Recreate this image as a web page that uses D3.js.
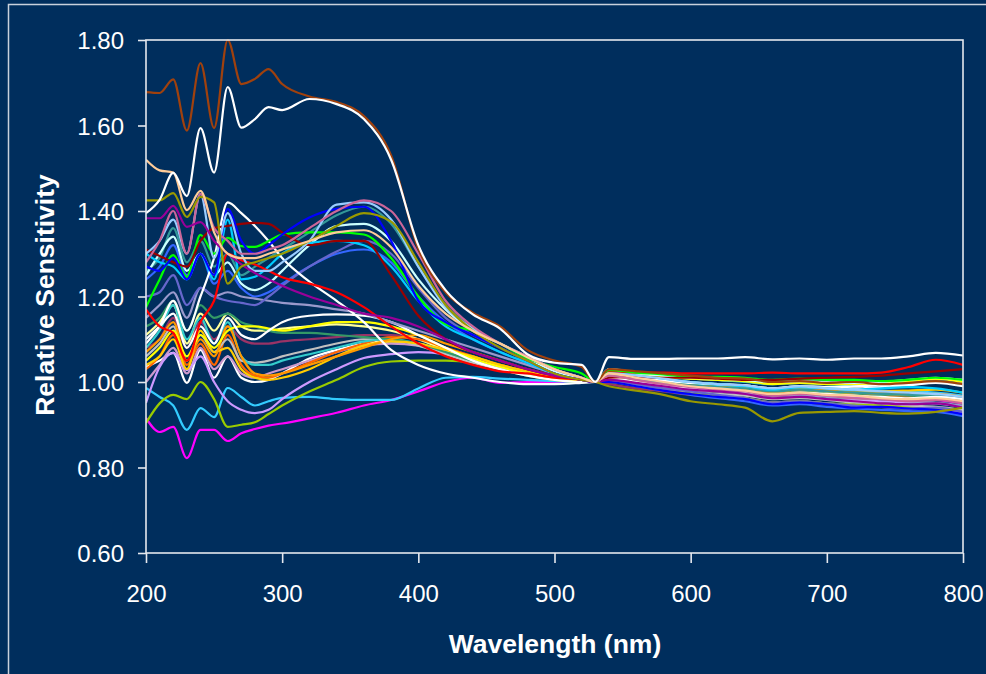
<!DOCTYPE html>
<html>
<head>
<meta charset="utf-8">
<script src="https://cdn.jsdelivr.net/npm/d3@7"></script>
<style>
  html, body { margin: 0; padding: 0; background: #002e5d; }
  svg { display: block; }
</style>
</head>
<body>
<svg id="chart" width="986" height="674"></svg>
<script>
// ---------------- DATA ----------------
const wavelengths = [200,210,220,230,240,250,260,270,280,290,300,320,340,360,380,400,420,440,460,480,500,520,530,540,560,580,600,620,640,660,680,700,720,740,760,780,800];
const xTicks = [200,300,400,500,600,700,800];
const yTicks = [0.6,0.8,1.0,1.2,1.4,1.6,1.8];
const xTitle = "Wavelength (nm)";
const yTitle = "Relative Sensitivity";

const s01 = [1.678,1.676,1.708,1.588,1.746,1.594,1.800,1.697,1.709,1.732,1.697, 1.668,1.655,1.622,1.530,1.312,1.210,1.162,1.130,1.075,1.050,1.035, 1.000, 1.030,1.025,1.020,1.015,1.010,1.008,1.000,1.002,0.998,1.000,0.995,0.998,1.002,0.995];
const s02 = [1.395,1.426,1.489,1.435,1.594,1.490,1.690,1.595,1.615,1.643,1.636, 1.662,1.650,1.615,1.520,1.320,1.215,1.158,1.125,1.065,1.045,1.040, 1.000, 1.058,1.054,1.054,1.055,1.055,1.058,1.053,1.055,1.052,1.055,1.055,1.060,1.068,1.062];
const s03 = [1.520,1.495,1.490,1.402,1.447,1.350,1.300,1.290,1.290,1.300,1.310, 1.330,1.350,1.355,1.315,1.225,1.160,1.120,1.090,1.058,1.030,1.010, 1.000, 1.020,1.010,1.000,0.990,0.985,0.980,0.972,0.975,0.970,0.968,0.962,0.960,0.962,0.955];
const s04 = [1.425,1.425,1.442,1.386,1.433,1.420,1.230,1.270,1.280,1.290,1.300, 1.330,1.365,1.395,1.375,1.280,1.180,1.120,1.080,1.050,1.020,1.005, 1.000, 0.990,0.980,0.970,0.955,0.948,0.940,0.908,0.928,0.930,0.932,0.928,0.926,0.930,0.940];
const s05 = [1.383,1.383,1.412,1.363,1.374,1.330,1.300,1.275,1.255,1.240,1.225, 1.200,1.180,1.160,1.150,1.130,1.100,1.070,1.050,1.030,1.015,1.005, 1.000, 1.005,0.998,0.990,0.982,0.978,0.972,0.962,0.965,0.960,0.955,0.950,0.948,0.950,0.940];
const s06 = [1.280,1.330,1.400,1.300,1.440,1.360,1.330,1.300,1.300,1.310,1.320, 1.360,1.400,1.425,1.400,1.300,1.190,1.130,1.090,1.060,1.030,1.010, 1.000, 1.015,1.005,0.995,0.988,0.982,0.978,0.968,0.972,0.968,0.962,0.960,0.955,0.958,0.950];
const s07 = [1.300,1.330,1.380,1.300,1.440,1.290,1.395,1.300,1.260,1.260,1.280, 1.330,1.415,1.420,1.380,1.270,1.175,1.125,1.090,1.060,1.030,1.010, 1.000, 1.020,1.015,1.008,1.000,0.995,0.992,0.985,0.990,0.985,0.982,0.978,0.975,0.972,0.965];
const s08 = [1.270,1.260,1.290,1.240,1.300,1.250,1.405,1.330,1.300,1.320,1.345, 1.385,1.405,1.410,1.330,1.190,1.140,1.110,1.080,1.050,1.020,1.005, 1.000, 1.000,0.990,0.980,0.972,0.965,0.960,0.948,0.952,0.948,0.940,0.942,0.938,0.935,0.925];
const s09 = [1.310,1.295,1.280,1.270,1.330,1.360,1.365,1.370,1.372,1.370,1.350, 1.320,1.330,1.330,1.250,1.155,1.100,1.070,1.050,1.030,1.015,1.005, 1.000, 1.010,1.012,1.010,1.010,1.008,1.005,1.005,1.008,1.010,1.012,1.015,1.020,1.025,1.030];
const s10 = [1.175,1.240,1.297,1.246,1.344,1.300,1.337,1.318,1.316,1.330,1.345, 1.350,1.350,1.345,1.290,1.200,1.135,1.120,1.090,1.055,1.035,1.020, 1.000, 1.028,1.022,1.018,1.012,1.012,1.010,1.005,1.008,1.005,1.005,1.002,1.005,1.010,1.005];
const s11 = [1.170,1.130,1.115,1.050,1.140,1.190,1.300,1.285,1.275,1.260,1.245, 1.230,1.210,1.175,1.130,1.090,1.060,1.040,1.025,1.020,1.010,1.005, 1.000, 1.025,1.022,1.022,1.020,1.020,1.020,1.022,1.020,1.020,1.020,1.022,1.035,1.052,1.040];
const s12 = [1.090,1.130,1.190,1.120,1.200,1.290,1.420,1.395,1.365,1.330,1.290, 1.235,1.190,1.140,1.075,1.040,1.020,1.010,1.000,0.995,0.995,0.998, 1.000, 1.010,1.000,0.992,0.985,0.982,0.978,0.970,0.975,0.972,0.968,0.965,0.962,0.965,0.960];
const s13 = [1.300,1.280,1.270,1.240,1.300,1.240,1.380,1.240,1.246,1.270,1.300, 1.325,1.330,1.320,1.270,1.190,1.130,1.100,1.070,1.045,1.020,1.005, 1.000, 1.025,1.015,1.008,1.000,0.995,0.990,0.982,0.988,0.985,0.982,0.985,0.988,0.985,0.975];
const s14 = [1.250,1.300,1.340,1.260,1.300,1.250,1.280,1.230,1.215,1.230,1.260, 1.320,1.365,1.370,1.330,1.240,1.170,1.120,1.090,1.055,1.025,1.008, 1.000, 1.030,1.020,1.015,1.010,1.008,1.005,1.000,1.002,1.000,0.998,1.000,1.005,1.010,1.005];
const s15 = [1.200,1.210,1.250,1.180,1.220,1.200,1.190,1.185,1.180,1.200,1.225, 1.270,1.305,1.330,1.300,1.220,1.150,1.110,1.080,1.050,1.025,1.008, 1.000, 1.005,0.995,0.985,0.978,0.970,0.962,0.952,0.955,0.950,0.945,0.942,0.938,0.940,0.930];
const s16 = [1.260,1.290,1.360,1.280,1.330,1.270,1.300,1.250,1.270,1.290,1.310, 1.350,1.390,1.410,1.370,1.270,1.180,1.125,1.090,1.060,1.030,1.010, 1.000, 1.015,1.005,0.998,0.992,0.988,0.985,0.978,0.982,0.978,0.975,0.972,0.970,0.968,0.960];
const s17 = [1.150,1.180,1.210,1.150,1.220,1.200,1.210,1.200,1.195,1.190,1.185, 1.180,1.170,1.160,1.140,1.120,1.100,1.080,1.060,1.040,1.020,1.008, 1.000, 1.008,0.998,0.990,0.985,0.980,0.975,0.968,0.970,0.965,0.962,0.960,0.955,0.952,0.945];
const s18 = [1.100,1.130,1.160,1.080,1.130,1.090,1.150,1.110,1.100,1.120,1.140, 1.155,1.158,1.155,1.140,1.110,1.080,1.050,1.030,1.015,1.005,1.000, 1.000, 1.020,1.010,1.002,0.998,0.995,0.992,0.985,0.990,0.988,0.990,0.992,0.995,1.000,0.995];
const s19 = [1.050,1.080,1.120,1.060,1.110,1.080,1.120,1.130,1.130,1.125,1.120, 1.130,1.140,1.140,1.130,1.110,1.080,1.055,1.035,1.020,1.010,1.002, 1.000, 1.025,1.018,1.012,1.008,1.005,1.002,0.995,0.998,0.995,0.995,0.998,1.002,1.008,1.000];
const s20 = [1.070,1.100,1.140,1.050,1.100,1.060,1.130,1.060,1.020,1.015,1.020, 1.040,1.060,1.080,1.100,1.110,1.090,1.070,1.050,1.030,1.015,1.005, 1.000, 1.018,1.008,1.000,0.992,0.988,0.985,0.978,0.982,0.980,0.975,0.972,0.970,0.972,0.965];
const s21 = [1.040,1.060,1.100,1.030,1.120,1.070,1.080,1.030,1.010,1.005,1.010, 1.030,1.060,1.085,1.095,1.090,1.075,1.060,1.040,1.025,1.010,1.002, 1.000, 1.010,1.002,0.995,0.990,0.988,0.985,0.978,0.982,0.978,0.975,0.978,0.980,0.982,0.975];
const s22 = [1.130,1.150,1.190,1.120,1.180,1.150,1.160,1.140,1.130,1.120,1.115, 1.115,1.110,1.105,1.100,1.090,1.070,1.050,1.035,1.020,1.010,1.002, 1.000, 1.012,1.005,0.998,0.992,0.988,0.985,0.978,0.980,0.976,0.972,0.970,0.968,0.965,0.960];
const s23 = [1.080,1.120,1.180,1.100,1.150,1.090,1.140,1.060,1.040,1.040,1.050, 1.065,1.080,1.095,1.100,1.090,1.070,1.050,1.035,1.020,1.010,1.002, 1.000, 1.030,1.022,1.015,1.010,1.005,1.000,0.995,0.998,0.995,0.992,0.995,0.998,1.002,0.995];
const s24 = [1.060,1.090,1.130,1.050,1.110,1.070,1.100,1.050,1.045,1.050,1.060, 1.075,1.090,1.100,1.100,1.085,1.065,1.045,1.030,1.018,1.008,1.002, 1.000, 1.005,0.995,0.985,0.978,0.972,0.968,0.960,0.962,0.958,0.952,0.950,0.945,0.942,0.935];
const s25 = [0.951,1.035,1.068,1.028,1.060,1.000,0.955,0.935,0.927,0.935,0.960, 1.000,1.030,1.056,1.065,1.070,1.065,1.050,1.035,1.020,1.010,1.002, 1.000, 1.010,1.000,0.990,0.982,0.978,0.972,0.962,0.965,0.960,0.958,0.955,0.952,0.950,0.942];
const s26 = [0.904,0.950,0.970,0.960,1.000,0.960,0.895,0.900,0.906,0.925,0.945, 0.978,1.005,1.035,1.048,1.050,1.050,1.045,1.030,1.015,1.005,1.000, 1.000, 1.000,0.992,0.985,0.975,0.968,0.962,0.952,0.955,0.950,0.948,0.945,0.942,0.940,0.935];
const s27 = [0.986,0.965,0.945,0.888,0.939,0.918,0.986,0.965,0.945,0.955,0.963, 0.965,0.960,0.958,0.958,0.985,1.010,1.012,1.008,1.005,1.002,1.000, 1.000, 1.015,1.008,1.000,0.995,0.992,0.988,0.982,0.985,0.982,0.980,0.980,0.978,0.975,0.968];
const s28 = [0.916,0.883,0.895,0.822,0.888,0.888,0.862,0.880,0.890,0.898,0.903, 0.915,0.928,0.945,0.958,0.978,1.000,1.010,0.998,1.000,1.000,1.000, 1.000, 1.005,0.998,0.990,0.985,0.980,0.978,0.970,0.972,0.968,0.965,0.962,0.960,0.958,0.950];
const s29 = [1.030,1.060,1.110,1.040,1.090,1.040,1.110,1.040,1.015,1.010,1.020, 1.045,1.070,1.090,1.105,1.100,1.080,1.060,1.040,1.025,1.010,1.002, 1.000, 1.015,1.005,0.998,0.992,0.985,0.982,0.975,0.978,0.975,0.970,0.968,0.965,0.962,0.955];
const s30 = [1.110,1.140,1.180,1.090,1.160,1.120,1.160,1.130,1.120,1.120,1.125, 1.130,1.135,1.130,1.120,1.100,1.075,1.050,1.035,1.020,1.008,1.002, 1.000, 1.028,1.020,1.012,1.008,1.005,1.002,0.998,1.000,0.998,0.995,0.998,1.002,1.008,1.002];
const s31 = [1.240,1.270,1.320,1.250,1.300,1.230,1.260,1.220,1.200,1.210,1.230, 1.270,1.300,1.310,1.280,1.200,1.140,1.100,1.070,1.045,1.020,1.005, 1.000, 1.000,0.990,0.980,0.970,0.962,0.955,0.945,0.948,0.942,0.938,0.935,0.932,0.930,0.920];
const s32 = [1.000,1.040,1.080,1.020,1.080,1.030,1.060,1.020,1.010,1.020,1.030, 1.050,1.070,1.085,1.090,1.085,1.070,1.050,1.035,1.020,1.008,1.002, 1.000, 1.002,0.992,0.982,0.975,0.968,0.962,0.952,0.955,0.950,0.945,0.942,0.938,0.935,0.928];
const s33 = [1.080,1.100,1.150,1.080,1.140,1.100,1.130,1.100,1.090,1.090,1.095, 1.100,1.105,1.110,1.110,1.100,1.080,1.060,1.040,1.025,1.010,1.002, 1.000, 0.995,0.985,0.978,0.970,0.965,0.960,0.950,0.952,0.948,0.945,0.942,0.940,0.938,0.930];
const s34 = [1.035,1.050,1.068,0.998,1.075,1.010,1.060,1.010,1.000,1.005,1.020, 1.055,1.075,1.090,1.095,1.090,1.070,1.050,1.035,1.020,1.008,1.002, 1.000, 1.022,1.012,1.005,1.000,0.995,0.992,0.985,0.990,0.988,0.985,0.988,0.992,0.998,0.990];

const seriesValues = [s34,s33,s32,s31,s30,s29,s28,s27,s26,s25,s24,s23,s22,s21,s20,s19,s18,s17,s16,s15,s14,s13,s12,s11,s10,s09,s08,s07,s06,s05,s04,s03,s01,s02];
const seriesColors = ["#ffffff","#993366","#cc99cc","#3366ff","#ffff99","#ff6600","#ff00ff","#33ccff","#99cc00","#cc99ff","#c0c0c0","#33cccc","#339966","#ffcc00","#ff9900","#ffff00","#ffffff","#9999cc","#339999","#6666cc","#ccffff","#00ccff","#ffffff","#ff0000","#00ff00","#990000","#0000ff","#99ccff","#cc6699","#990099","#999900","#ffcc99","#a0410d","#ffffff"];

// ---------------- CHART ----------------
(function () {
  const svg = d3.select("#chart");
  const W = 986, H = 674;
  const pL = 146, pR = 963, pT = 40, pB = 553;
  const frameColor = "#e4e8ee";
  const font = "'Liberation Sans', Arial, sans-serif";

  svg.append("rect").attr("x", 0).attr("y", 0).attr("width", W).attr("height", H).attr("fill", "#002e5d");
  svg.append("rect").attr("x", 8.5).attr("y", 4.5).attr("width", W + 20).attr("height", H + 20)
    .attr("fill", "none").attr("stroke", "#c9d1dc").attr("stroke-width", 1.5);

  const x = d3.scaleLinear().domain([200, 800]).range([pL, pR]);
  const y = d3.scaleLinear().domain([0.6, 1.8]).range([pB, pT]);

  const gx = svg.append("g").attr("transform", `translate(0,${pB})`)
    .call(d3.axisBottom(x).tickValues(xTicks).tickSize(10).tickPadding(22).tickFormat(d3.format("d")));
  const gy = svg.append("g").attr("transform", `translate(${pL},0)`)
    .call(d3.axisLeft(y).tickValues(yTicks).tickSize(8).tickPadding(14).tickFormat(d3.format(".2f")));
  [gx, gy].forEach(g => {
    g.select(".domain").remove();
    g.selectAll(".tick line").attr("stroke", frameColor).attr("stroke-width", 1.6);
    g.selectAll(".tick text").attr("fill", "#ffffff").attr("font-family", font).attr("font-size", 24);
  });
  gy.selectAll(".tick text").attr("dy", "0.36em");

  const line = d3.line()
    .x((d, i) => x(wavelengths[i]))
    .y(d => y(d))
    .curve(d3.curveMonotoneX);
  svg.append("defs").append("clipPath").attr("id", "clip")
    .append("rect").attr("x", pL).attr("y", pT - 2).attr("width", pR - pL).attr("height", pB - pT + 2);
  svg.append("g").attr("clip-path", "url(#clip)")
    .selectAll("path").data(seriesValues).join("path")
    .attr("d", d => line(d))
    .attr("fill", "none")
    .attr("stroke", (d, i) => seriesColors[i])
    .attr("stroke-width", 2.2)
    .attr("stroke-linejoin", "round");

  svg.append("rect").attr("x", pL).attr("y", pT).attr("width", pR - pL).attr("height", pB - pT)
    .attr("fill", "none").attr("stroke", frameColor).attr("stroke-width", 1.6);

  svg.append("text").attr("x", 555).attr("y", 653).attr("text-anchor", "middle")
    .attr("fill", "#ffffff").attr("font-family", font).attr("font-weight", "bold").attr("font-size", 26.5)
    .text(xTitle);
  svg.append("text").attr("transform", "translate(54,295) rotate(-90)").attr("text-anchor", "middle")
    .attr("fill", "#ffffff").attr("font-family", font).attr("font-weight", "bold").attr("font-size", 26.5)
    .text(yTitle);
})();
</script>
</body>
</html>
